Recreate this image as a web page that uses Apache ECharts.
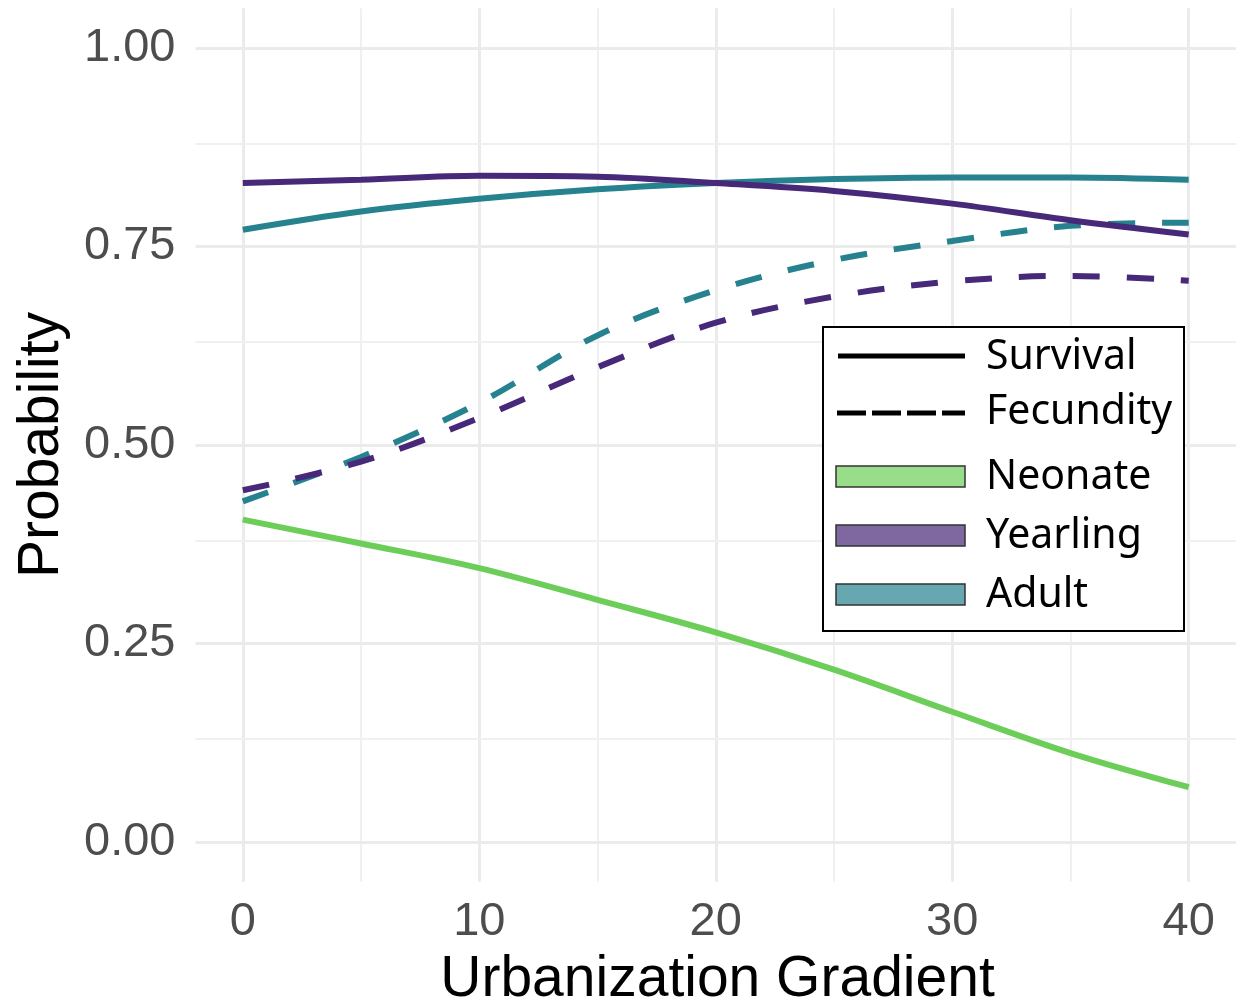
<!DOCTYPE html>
<html>
<head>
<meta charset="utf-8">
<script src="https://cdn.jsdelivr.net/npm/echarts@6/dist/echarts.min.js"></script>
<style>html,body{margin:0;padding:0;background:#fff}#c{width:1239px;height:1008px}</style>
</head>
<body>
<div id="c"></div>
<script>
const xValues = [0, 5, 10, 15, 20, 25, 30, 35, 40];
const neonateSurvival = [0.406, 0.376, 0.345, 0.305, 0.264, 0.217, 0.164, 0.112, 0.069];
const yearlingSurvival = [0.830, 0.834, 0.839, 0.838, 0.830, 0.820, 0.804, 0.783, 0.765];
const adultSurvival = [0.771, 0.794, 0.810, 0.822, 0.830, 0.835, 0.837, 0.837, 0.834];
const yearlingFecundity = [0.443, 0.479, 0.534, 0.598, 0.654, 0.687, 0.706, 0.713, 0.707];
const adultFecundity = [0.429, 0.485, 0.553, 0.638, 0.695, 0.733, 0.757, 0.776, 0.780];
const xTicks = [0, 10, 20, 30, 40];
const xMinor = [5, 15, 25, 35];
const yTicks = [0, 0.25, 0.5, 0.75, 1.0];
const yMinor = [0.125, 0.375, 0.625, 0.875];
const legendLines = ['Survival', 'Fecundity'];
const legendGroups = ['Neonate', 'Yearling', 'Adult'];

const colors = {Neonate: '#6CCE59', Yearling: '#482878', Adult: '#26828E'};
const fills = {Neonate: 'rgba(108,206,89,0.7)', Yearling: 'rgba(72,40,120,0.7)', Adult: 'rgba(38,130,142,0.7)'};

function pairs(ys) { return xValues.map((x, i) => [x, ys[i]]); }
function near(v, arr) { return arr.some(t => Math.abs(t - v) < 1e-6); }

const chart = echarts.init(document.getElementById('c'), null, {renderer: 'canvas'});

const gridMarks = [];
xTicks.forEach(v => gridMarks.push({xAxis: v, lineStyle: {color: '#EBEBEB', width: 3, type: 'solid'}}));
xMinor.forEach(v => gridMarks.push({xAxis: v, lineStyle: {color: '#F0F0F0', width: 2, type: 'solid'}}));
yTicks.forEach(v => gridMarks.push({yAxis: v, lineStyle: {color: '#EBEBEB', width: 3, type: 'solid'}}));
yMinor.forEach(v => gridMarks.push({yAxis: v, lineStyle: {color: '#F0F0F0', width: 2, type: 'solid'}}));

function lineSeries(name, ys, color, dashed) {
  return {
    name: name, type: 'line', data: pairs(ys), smooth: 0.35, showSymbol: false, symbol: 'none',
    silent: true, z: 5,
    lineStyle: {color: color, width: 6, type: dashed ? [27, 27] : 'solid', cap: 'butt'}
  };
}

const legX = 823, legY = 327, legW = 361, legH = 304;
const graphics = [
  {type: 'rect', shape: {x: legX, y: legY, width: legW, height: legH}, style: {fill: '#fff', stroke: '#000', lineWidth: 2}, z: 100},
  {type: 'line', shape: {x1: 838, y1: 356, x2: 965, y2: 356}, style: {stroke: '#000', lineWidth: 5}, z: 101},
  {type: 'line', shape: {x1: 837, y1: 413, x2: 965, y2: 413}, style: {stroke: '#000', lineWidth: 5, lineDash: [29, 6]}, z: 101}
];
const lineY = [357, 412];
legendLines.forEach((t, i) => graphics.push({type: 'text', x: 986, y: lineY[i], style: {text: t, font: '41px "Noto Sans"', fill: '#000', textVerticalAlign: 'middle'}, z: 101}));
const groupY = [466, 525, 584];
legendGroups.forEach((g, i) => {
  graphics.push({type: 'rect', shape: {x: 836, y: groupY[i], width: 129, height: 21}, style: {fill: fills[g], stroke: '#333', lineWidth: 1.5}, z: 101});
  graphics.push({type: 'text', x: 986, y: groupY[i] + 11, style: {text: g, font: '41px "Noto Sans"', fill: '#000', textVerticalAlign: 'middle'}, z: 101});
});
graphics.push({type: 'text', x: 717.5, y: 980, style: {text: 'Urbanization Gradient', font: '57px "Liberation Sans"', fill: '#000', textAlign: 'center', textVerticalAlign: 'middle'}, z: 101});
graphics.push({type: 'text', x: 42, y: 445, rotation: Math.PI / 2, style: {text: 'Probability', font: '57px "Liberation Sans"', fill: '#000', textAlign: 'center', textVerticalAlign: 'middle'}, z: 101});

chart.setOption({
  animation: false,
  backgroundColor: '#fff',
  grid: {left: 195.5, right: -1.5, top: 8.3, bottom: 126.3, containLabel: false},
  xAxis: {
    type: 'value', min: -2, max: 42, interval: 2,
    axisLine: {show: false}, axisTick: {show: false}, splitLine: {show: false},
    axisLabel: {
      margin: 17, color: '#4D4D4D', fontSize: 47, fontFamily: 'Liberation Sans',
      formatter: v => near(v, xTicks) ? String(Math.round(v)) : ''
    }
  },
  yAxis: {
    type: 'value', min: -0.05, max: 1.05, interval: 0.05,
    axisLine: {show: false}, axisTick: {show: false}, splitLine: {show: false},
    axisLabel: {
      margin: 20, color: '#4D4D4D', fontSize: 47, fontFamily: 'Liberation Sans',
      formatter: v => near(v, yTicks) ? v.toFixed(2) : ''
    }
  },
  graphic: graphics,
  series: [
    {type: 'line', data: [], silent: true, z: 1,
     markLine: {silent: true, symbol: ['none', 'none'], label: {show: false}, animation: false, data: gridMarks}},
    lineSeries('Neonate Survival', neonateSurvival, colors.Neonate, false),
    lineSeries('Adult Survival', adultSurvival, colors.Adult, false),
    lineSeries('Adult Fecundity', adultFecundity, colors.Adult, true),
    lineSeries('Yearling Survival', yearlingSurvival, colors.Yearling, false),
    lineSeries('Yearling Fecundity', yearlingFecundity, colors.Yearling, true)
  ]
});
</script>
</body>
</html>
